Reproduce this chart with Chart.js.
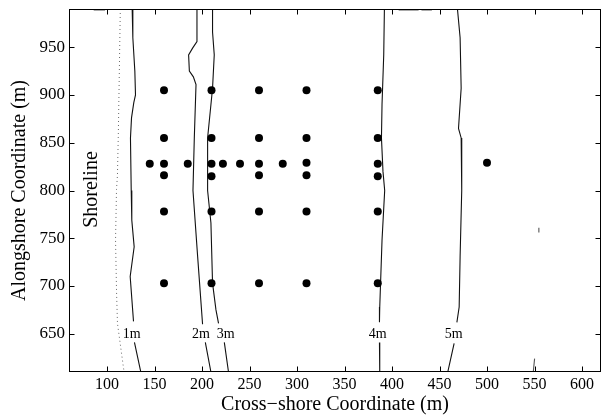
<!DOCTYPE html>
<html><head><meta charset="utf-8">
<script src="https://cdn.jsdelivr.net/npm/chart.js@4/dist/chart.umd.min.js"></script>
<style>html,body{margin:0;padding:0;background:#fff}</style>
</head><body>
<canvas id="c" width="605" height="419"></canvas>
<script>
// ---- data ----
const xTicks = [100,150,200,250,300,350,400,450,500,550,600];
const yTicks = [650,700,750,800,850,900,950];

const stationX = [160,210,260,310,385, 160,210,260,310,385,
                  145,160,185,210,222,240,260,285,310,385,500,
                  160,210,260,310,385, 160,210,260,310,385, 160,210,260,310,385];
const stationY = [905,905,905,905,905, 855,855,855,855,855,
                  828,828,828,828,828,828,828,828,829,828,829,
                  816,815,816,816,815, 778,778,778,778,778, 703,703,703,703,703];

const shoreX = [114,112,111,110,109,110,111,117,118];
const shoreY = [990,863,816,801,748,696,661,617,610];

const c1X = [126.5,127.2,129.3,130,128.2,125.8,124.7,125.5,126.1,128.6,124.4,127.9, null, 128.9,135.6];
const c1Y = [990,960,925,900,892,876,855,800,769,741,710,663, null, 641,610];
const c2X = [194.7,194.7,190.1,185.9,186.7,190.9,193.7,191.9,190.5,195.4,200.6, null, 203.5,209.4];
const c2Y = [990,956,949,942,925,919,911,855,800,731,660, null, 641,610];
const c3X = [211.1,211.1,212.9,211.1,208.7,205.9,205.9,209.4,211.1,214.7,217.4, null, 223.5,227.9];
const c3Y = [990,966,942,907,883,855,800,766,703,675,661, null, 641,610];
const c4X = [392,391.3,389.5,388.9,390.5,392.3,389.5,387.1,386.8, null, 386.8,387.1];
const c4Y = [990,942,890,855,820,800,748,678,662, null, 641,610];
const c5X = [468.9,471.7,472.8,470,472.8,473.4,471.7,470.7,468.3, null, 465.4,458.7];
const c5Y = [990,960,907,865,855,800,731,678,662, null, 640,610];
const bitsX = [550.1,548.7, null, 554.6,554.6, null, 86,98, null, 407,428, null, 431,442, null, 169,190];
const bitsY = [624,610, null, 761,756, null, 989,989, null, 989,989, null, 989,989, null, 610.5,610.5];

const contourLabels = ['1m','2m','3m','4m','5m'];
const labelX = [126,199,225,385,465];
const labelY = [649,649,649,649,649];

// ---- helpers ----
const zip = (xs, ys) => xs.map((v,i) => ({x: v, y: ys[i]}));
const FONT = '"Liberation Serif", "DejaVu Serif", serif';

const lineDs = (xs, ys, extra) => Object.assign({
  data: zip(xs, ys), showLine: true, pointRadius: 0, pointHoverRadius: 0,
  borderColor: '#111', borderWidth: 1.1, spanGaps: false, tension: 0
}, extra || {});

const framePlugin = {
  id: 'frame',
  afterDatasetsDraw(chart) {
    const {ctx, chartArea: a, scales: {x, y}} = chart;
    ctx.save();
    ctx.strokeStyle = '#000';
    ctx.lineWidth = 1;
    const L = Math.round(a.left) + 0.5, R = Math.round(a.right) - 0.5;
    const T = Math.round(a.top) + 0.5, B = Math.round(a.bottom) - 0.5;
    ctx.strokeRect(L, T, R - L, B - T);
    const tl = 5;
    ctx.beginPath();
    xTicks.forEach(v => {
      const px = Math.round(x.getPixelForValue(v)) + 0.5;
      ctx.moveTo(px, B); ctx.lineTo(px, B - tl);
      ctx.moveTo(px, T); ctx.lineTo(px, T + tl);
    });
    yTicks.forEach(v => {
      const py = Math.round(y.getPixelForValue(v)) + 0.5;
      ctx.moveTo(L, py); ctx.lineTo(L + tl, py);
      ctx.moveTo(R, py); ctx.lineTo(R - tl, py);
    });
    ctx.stroke();
    // contour labels
    ctx.fillStyle = '#000';
    ctx.font = '14px ' + FONT;
    ctx.textAlign = 'center';
    ctx.textBaseline = 'middle';
    contourLabels.forEach((t, i) => {
      ctx.fillText(t, x.getPixelForValue(labelX[i]), y.getPixelForValue(labelY[i]));
    });
    // Shoreline text
    ctx.save();
    ctx.translate(x.getPixelForValue(84), y.getPixelForValue(801));
    ctx.rotate(-Math.PI / 2);
    ctx.font = '20px ' + FONT;
    ctx.fillText('Shoreline', 0, 0);
    ctx.restore();
    ctx.restore();
  }
};

new Chart(document.getElementById('c'), {
  type: 'scatter',
  data: {
    datasets: [
      { data: zip(stationX, stationY), pointRadius: 4, pointHoverRadius: 4,
        pointBackgroundColor: '#000', pointBorderColor: '#000', pointBorderWidth: 0, showLine: false },
      lineDs(c1X, c1Y),
      lineDs(c2X, c2Y),
      lineDs(c3X, c3Y),
      lineDs(c4X, c4Y),
      lineDs(c5X, c5Y),
      lineDs(bitsX, bitsY, {borderColor: '#555'}),
      lineDs(shoreX, shoreY, {borderColor: '#666', borderWidth: 1, borderDash: [1, 3]})
    ]
  },
  options: {
    responsive: false,
    animation: false,
    devicePixelRatio: 1,
    layout: { padding: { top: 9, right: 2, left: 0, bottom: 0 } },
    plugins: { legend: { display: false }, tooltip: { enabled: false } },
    scales: {
      x: {
        type: 'linear', min: 60, max: 620,
        afterBuildTicks: s => { s.ticks = xTicks.map(v => ({value: v})); },
        afterFit: s => { s.height = 47; s.paddingLeft = 0; s.paddingRight = 0; },
        ticks: { font: { family: FONT, size: 16 }, color: '#000', padding: 3, maxRotation: 0, autoSkip: false },
        grid: { display: false, drawTicks: false },
        border: { display: false },
        title: { display: true, text: 'Cross\u2212shore Coordinate (m)', color: '#000',
                 font: { family: FONT, size: 20 }, padding: { top: 0, bottom: 2 } }
      },
      y: {
        type: 'linear', min: 610, max: 990,
        afterBuildTicks: s => { s.ticks = yTicks.map(v => ({value: v})); },
        afterFit: s => { s.width = 69; s.paddingTop = 0; s.paddingBottom = 0; },
        ticks: { font: { family: FONT, size: 17 }, color: '#000', padding: 4, autoSkip: false },
        grid: { display: false, drawTicks: false },
        border: { display: false },
        title: { display: true, text: 'Alongshore Coordinate (m)', color: '#000',
                 font: { family: FONT, size: 20 }, padding: { top: 8, bottom: 0 } }
      }
    }
  },
  plugins: [framePlugin]
});
</script>
</body></html>
